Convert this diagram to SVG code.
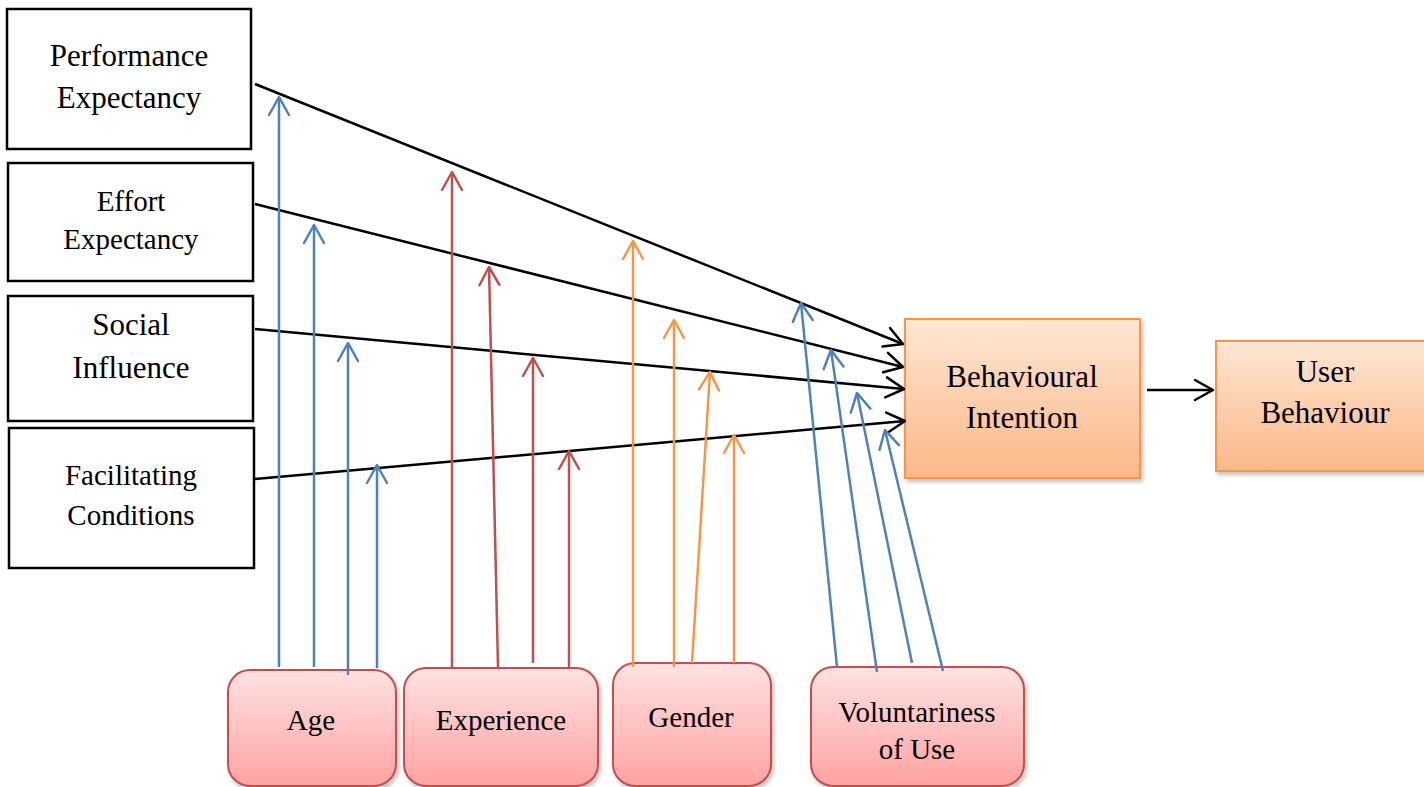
<svg xmlns="http://www.w3.org/2000/svg" width="1424" height="787" viewBox="0 0 1424 787">
  <defs>
    <linearGradient id="orangeFill" x1="0" y1="0" x2="0" y2="1">
      <stop offset="0" stop-color="#fee6d4"/>
      <stop offset="1" stop-color="#fbb887"/>
    </linearGradient>
    <linearGradient id="pinkFill" x1="0" y1="0" x2="0" y2="1">
      <stop offset="0" stop-color="#ffe2e2"/>
      <stop offset="1" stop-color="#ffa2a2"/>
    </linearGradient>
    <filter id="shadow" x="-10%" y="-10%" width="125%" height="125%">
      <feDropShadow dx="2" dy="3" stdDeviation="2" flood-color="#000" flood-opacity="0.25"/>
    </filter>
    <marker id="headBlack" markerUnits="userSpaceOnUse" viewBox="-22 -13 26 26" refX="0" refY="0" markerWidth="26" markerHeight="26" orient="auto">
      <path d="M-18,-10 L0,0 L-18,10" fill="none" stroke="#000" stroke-width="2.5" stroke-linejoin="round" stroke-linecap="round"/>
    </marker>
    <marker id="headBlue" markerUnits="userSpaceOnUse" viewBox="-22 -13 26 26" refX="0" refY="0" markerWidth="26" markerHeight="26" orient="auto">
      <path d="M-18,-10 L0,0 L-18,10" fill="none" stroke="#4f81bd" stroke-width="2.5" stroke-linejoin="round" stroke-linecap="round"/>
    </marker>
    <marker id="headRed" markerUnits="userSpaceOnUse" viewBox="-22 -13 26 26" refX="0" refY="0" markerWidth="26" markerHeight="26" orient="auto">
      <path d="M-18,-10 L0,0 L-18,10" fill="none" stroke="#c0504d" stroke-width="2.5" stroke-linejoin="round" stroke-linecap="round"/>
    </marker>
    <marker id="headOrange" markerUnits="userSpaceOnUse" viewBox="-22 -13 26 26" refX="0" refY="0" markerWidth="26" markerHeight="26" orient="auto">
      <path d="M-18,-10 L0,0 L-18,10" fill="none" stroke="#f79646" stroke-width="2.5" stroke-linejoin="round" stroke-linecap="round"/>
    </marker>
  </defs>
  <style>
    .lbl { font-family: "Liberation Serif", "Times New Roman", serif; fill: #000; text-anchor: middle; }
    .big { font-size: 31px; }
    .mid { font-size: 29px; }
    .construct { fill: #fff; stroke: #000; stroke-width: 2.5; }
    .outcome { fill: url(#orangeFill); stroke: #f79646; stroke-width: 2; filter: url(#shadow); }
    .moderator { fill: url(#pinkFill); stroke: #c0504d; stroke-width: 2; filter: url(#shadow); }
    .k { fill: none; stroke: #000; stroke-width: 2.5; marker-end: url(#headBlack); }
    .b { fill: none; stroke: #4f81bd; stroke-width: 2.5; marker-end: url(#headBlue); }
    .r { fill: none; stroke: #c0504d; stroke-width: 2.5; marker-end: url(#headRed); }
    .o { fill: none; stroke: #f79646; stroke-width: 2.5; marker-end: url(#headOrange); }
  </style>

  <!-- predictor constructs -->
  <g id="performance-expectancy">
    <rect class="construct" x="7" y="9" width="244" height="140"/>
    <text class="lbl big" x="129" y="66">Performance</text>
    <text class="lbl big" x="129" y="108">Expectancy</text>
  </g>
  <g id="effort-expectancy">
    <rect class="construct" x="8" y="163" width="245" height="118"/>
    <text class="lbl mid" x="131" y="211">Effort</text>
    <text class="lbl mid" x="131" y="249">Expectancy</text>
  </g>
  <g id="social-influence">
    <rect class="construct" x="8" y="296" width="245" height="125"/>
    <text class="lbl big" x="131" y="335">Social</text>
    <text class="lbl big" x="131" y="378">Influence</text>
  </g>
  <g id="facilitating-conditions">
    <rect class="construct" x="9" y="428" width="245" height="140"/>
    <text class="lbl mid" x="131" y="485">Facilitating</text>
    <text class="lbl mid" x="131" y="525">Conditions</text>
  </g>

  <!-- outcomes -->
  <g id="behavioural-intention">
    <rect class="outcome" x="905" y="319" width="235" height="159"/>
    <text class="lbl big" x="1022" y="387">Behavioural</text>
    <text class="lbl big" x="1022" y="428">Intention</text>
  </g>
  <g id="user-behaviour">
    <rect class="outcome" x="1216" y="341" width="214" height="130"/>
    <text class="lbl big" x="1325" y="382">User</text>
    <text class="lbl big" x="1325" y="423">Behaviour</text>
  </g>

  <!-- moderators -->
  <g id="age">
    <rect class="moderator" x="228" y="670" width="168" height="116" rx="22" ry="22"/>
    <text class="lbl mid" x="311" y="730">Age</text>
  </g>
  <g id="experience">
    <rect class="moderator" x="404" y="668" width="194" height="118" rx="22" ry="22"/>
    <text class="lbl mid" x="501" y="730">Experience</text>
  </g>
  <g id="gender">
    <rect class="moderator" x="613" y="663" width="158" height="123" rx="22" ry="22"/>
    <text class="lbl mid" x="691" y="727">Gender</text>
  </g>
  <g id="voluntariness-of-use">
    <rect class="moderator" x="811" y="667" width="213" height="119" rx="22" ry="22"/>
    <text class="lbl mid" x="917" y="722">Voluntariness</text>
    <text class="lbl mid" x="917" y="759">of Use</text>
  </g>

  <!-- connectors -->
  <g id="connectors">
    <!-- direct effects -->
    <line class="k" x1="255" y1="84" x2="903" y2="344"/>
    <line class="k" x1="255" y1="204" x2="903" y2="367"/>
    <line class="k" x1="255" y1="329" x2="904" y2="389"/>
    <line class="k" x1="255" y1="479" x2="905" y2="421"/>
    <line class="k" x1="1147" y1="390" x2="1213" y2="390"/>

    <!-- age -->
    <line class="b" x1="279" y1="667" x2="279" y2="97"/>
    <line class="b" x1="314" y1="667" x2="314" y2="225"/>
    <line class="b" x1="348" y1="675" x2="348" y2="343"/>
    <line class="b" x1="377" y1="668" x2="377" y2="465"/>

    <!-- experience -->
    <line class="r" x1="452" y1="667" x2="452" y2="172"/>
    <line class="r" x1="498" y1="667" x2="489" y2="267"/>
    <line class="r" x1="533" y1="663" x2="533" y2="358"/>
    <line class="r" x1="569" y1="669" x2="569" y2="451"/>

    <!-- gender -->
    <line class="o" x1="633" y1="667" x2="633" y2="241"/>
    <line class="o" x1="674" y1="667" x2="674" y2="320"/>
    <line class="o" x1="692" y1="663" x2="710" y2="372"/>
    <line class="o" x1="734" y1="663" x2="734" y2="435"/>

    <!-- voluntariness of use -->
    <line class="b" x1="837" y1="667" x2="801" y2="303"/>
    <line class="b" x1="877" y1="672" x2="831" y2="350"/>
    <line class="b" x1="912" y1="663" x2="857" y2="393"/>
    <line class="b" x1="943" y1="671" x2="885" y2="430"/>
  </g>
</svg>
